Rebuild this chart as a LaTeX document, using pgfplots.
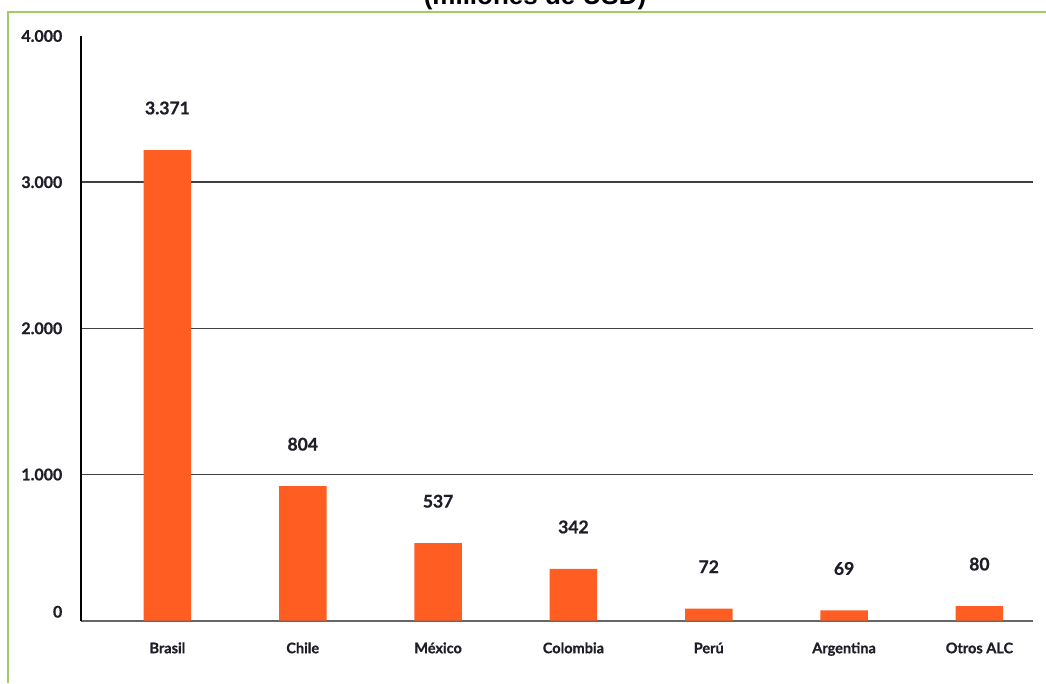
\documentclass[border=0pt]{standalone}
\usepackage{fontspec}
\setmainfont{Lato}[BoldFeatures={FakeBold=0.8}]
\newfontfamily\arialfont{Liberation Sans}
\usepackage{pgfplots}
\pgfplotsset{compat=1.18}
\definecolor{barorange}{RGB}{255,93,34}
\definecolor{framegreen}{RGB}{160,205,100}
\definecolor{txt}{RGB}{30,30,40}
\begin{document}
\begin{tikzpicture}[x=1pt,y=1pt]
\useasboundingbox (0,0) rectangle (1046,683);
\fill[white] (0,0) rectangle (1046,683);
\draw[framegreen, line width=1.4pt] (8,0) -- (8,671) -- (1046,671);
\node[anchor=base, font=\arialfont\bfseries\fontsize{26}{30}\selectfont] at (535,678.5) {(millones de USD)};
\begin{axis}[
  at={(81pt,62.3pt)}, anchor=south west,
  scale only axis, width=952pt, height=584.7pt,
  xmin=-0.6386, xmax=6.396, ymin=0, ymax=4000,
  axis x line=bottom, axis y line=left,
  x axis line style={-, draw=black!60, line width=2pt},
  y axis line style={-, draw=black, line width=1.2pt},
  major tick length=0pt,
  xtick={0,1,2,3,4,5,6},
  xticklabels={Brasil,Chile,México,Colombia,Perú,Argentina,Otros ALC},
  xticklabel style={anchor=base, yshift=-32.5pt, font=\bfseries\fontsize{14.5}{16}\selectfont, text=txt},
  ytick={1000,2000,3000},
  yticklabels={1.000,2.000,3.000},
  extra y ticks={0,4000},
  extra y tick labels={\raisebox{18pt}{0},4.000},
  extra y tick style={grid=none},
  yticklabel style={anchor=east, inner sep=0pt, xshift=-18.5pt, font=\bfseries\fontsize{16}{18}\selectfont, text=txt},
  ymajorgrids,
  major grid style={draw=black!75, line width=1.4pt},
  clip=false,
  nodes near coords,
  point meta=explicit symbolic,
  every node near coord/.append style={anchor=center, yshift=42pt, font=\bfseries\fontsize{17.5}{20}\selectfont, text=txt},
]
\addplot[ybar, bar width=47.5pt, fill=barorange, draw=none] coordinates {
  (0,3220) [3.371]
  (1,920) [804]
  (2,530) [537]
  (3,354) [342]
  (4,82) [72]
  (5,70) [69]
  (6,100) [80]
};
\end{axis}
\end{tikzpicture}
\end{document}
